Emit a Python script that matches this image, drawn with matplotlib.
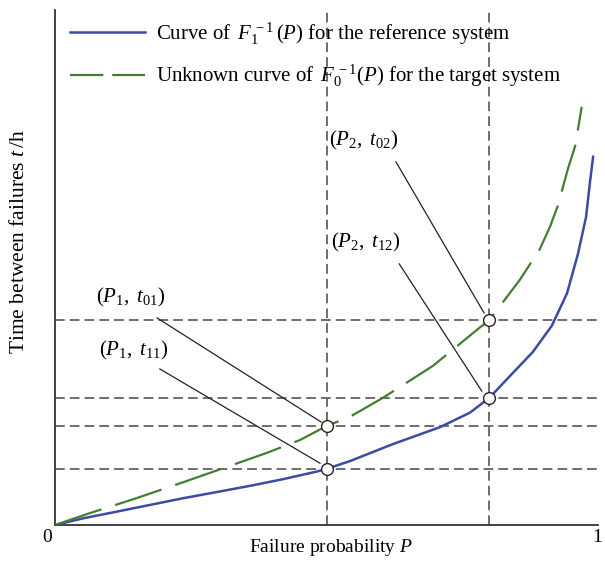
import matplotlib
matplotlib.use("Agg")
import matplotlib.pyplot as plt
from matplotlib.lines import Line2D

plt.rcParams['font.family'] = ['Liberation Serif', 'DejaVu Serif']
plt.rcParams['mathtext.fontset'] = 'custom'
plt.rcParams['mathtext.rm'] = 'Liberation Serif'
plt.rcParams['mathtext.it'] = 'Liberation Serif:italic'
plt.rcParams['mathtext.bf'] = 'Liberation Serif:bold'

# Data (t normalised to axis height)
p_ref = [0.0, 0.052, 0.114, 0.175, 0.236, 0.298, 0.359, 0.420, 0.483, 0.5, 0.543, 0.622,
         0.709, 0.764, 0.8, 0.843, 0.880, 0.915, 0.943, 0.963, 0.978, 0.985, 0.991]
t_ref = [0.0, 0.013, 0.026, 0.039, 0.052, 0.064, 0.076, 0.089, 0.104, 0.109, 0.124, 0.157,
         0.190, 0.218, 0.247, 0.295, 0.336, 0.387, 0.450, 0.526, 0.598, 0.664, 0.715]

p_tgt = [0.0, 0.064, 0.144, 0.236, 0.328, 0.390, 0.451, 0.5, 0.543, 0.604, 0.696, 0.783,
         0.8, 0.856, 0.893, 0.912, 0.926, 0.945, 0.958, 0.970]
t_tgt = [0.0, 0.023, 0.050, 0.083, 0.117, 0.140, 0.165, 0.192, 0.210, 0.247, 0.309, 0.384,
         0.398, 0.476, 0.536, 0.580, 0.620, 0.693, 0.736, 0.812]

P1, P2 = 0.5, 0.8
t11, t01, t12, t02 = 0.109, 0.192, 0.247, 0.398

labels = [r"$(P_1,\ t_{01})$", r"$(P_1,\ t_{11})$", r"$(P_2,\ t_{02})$", r"$(P_2,\ t_{12})$"]
label_pos = [(0.140, 0.441), (0.145, 0.338), (0.569, 0.746), (0.573, 0.548)]
leader_start = [(0.188, 0.402), (0.193, 0.303), (0.628, 0.705), (0.634, 0.507)]
leader_end = [(0.490, 0.200), (0.488, 0.120), (0.790, 0.412), (0.786, 0.260)]

legend_labels = [r"Curve of $\,F_1^{\,-1}\,(P)$ for the reference system",
                 r"Unknown curve of $\,F_0^{\,-1}(P)$ for the target system"]

blue = '#3c4ba3'
green = '#437d32'
gray = '#6e6e6e'

W, H = 605, 566
fig = plt.figure(figsize=(W / 100, H / 100), dpi=100)
ax = fig.add_axes([55 / W, (H - 525) / H, (598 - 55) / W, 515 / H])
ax.set_xlim(0, 1)
ax.set_ylim(0, 1)

for s in ['top', 'right']:
    ax.spines[s].set_visible(False)
for s in ['left', 'bottom']:
    ax.spines[s].set_color('#333333')
    ax.spines[s].set_linewidth(1.3)
ax.set_xticks([])
ax.set_yticks([])

# guide lines
gls = (0, (5.0, 2.6))
for t in [t02, t12, t01, t11]:
    ax.axhline(t, color=gray, lw=1.4, ls=gls, zorder=1)
for p in [P1, P2]:
    ax.axvline(p, color=gray, lw=1.4, ls=gls, zorder=1)

ax.plot(p_ref, t_ref, color=blue, lw=1.8, zorder=3)
ax.plot(p_tgt, t_tgt, color=green, lw=1.6, ls=(0, (22.0, 6.5)), zorder=3)

# points
ax.plot([P1, P1, P2, P2], [t11, t01, t12, t02], 'o', ms=8.5, mfc='white', mec='#222222',
        mew=1.0, zorder=5)

for lab, (x, y), (x0, y0), (x1, y1) in zip(labels, label_pos, leader_start, leader_end):
    ax.text(x, y, lab, ha='center', va='center', fontsize=15)
    ax.plot([x0, x1], [y0, y1], color='#222222', lw=0.9, zorder=4)

fig.text(47 / W, 1 - 537 / H, '0', ha='center', va='center', fontsize=14)
fig.text(597 / W, 1 - 537 / H, '1', ha='center', va='center', fontsize=14)

fig.text(331 / W, 1 - 548 / H, r"Failure probability $P$", ha='center', va='center', fontsize=14)
fig.text(20 / W, 1 - 242 / H, r"Time between failures $t\,$/h", ha='center', va='center',
         rotation=90, fontsize=15.5)

handles = [Line2D([], [], color=blue, lw=1.8),
           Line2D([], [], color=green, lw=1.6, ls=(0, (15.0, 4.0)))]
leg = fig.legend(handles, legend_labels, loc='upper left', bbox_to_anchor=(62 / W, 1 - 12 / H),
                 frameon=False, fontsize=15, handlelength=3.6, handletextpad=0.5,
                 labelspacing=0.75, borderaxespad=0)

fig.savefig('out.png', dpi=100)
